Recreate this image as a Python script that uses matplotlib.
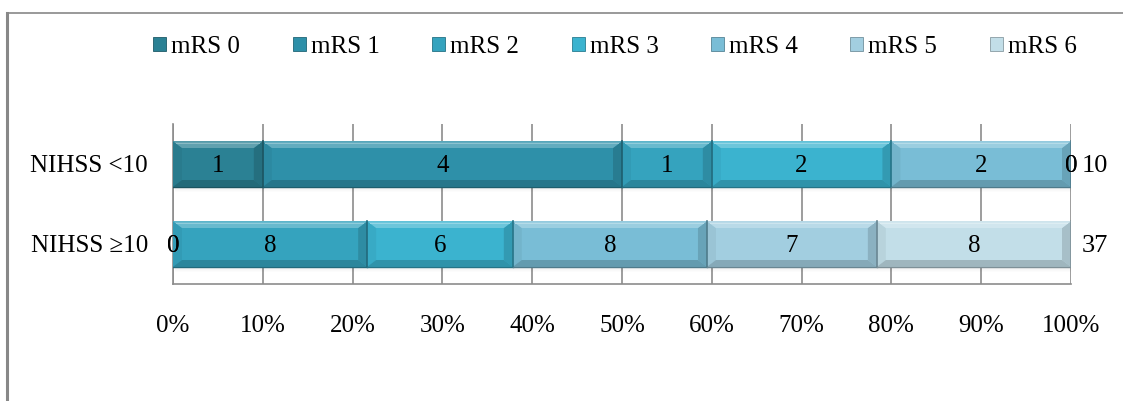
import matplotlib as mpl
import matplotlib.pyplot as plt
from matplotlib.patches import Rectangle, Polygon, Patch
from matplotlib.colors import to_rgb
import numpy as np

mpl.rcParams['font.family'] = ['Liberation Serif', 'DejaVu Serif']
mpl.rcParams['font.size'] = 18

# counts per mRS grade for each NIHSS group
groups = ['NIHSS <10', 'NIHSS \u226510']
series = ['mRS 0', 'mRS 1', 'mRS 2', 'mRS 3', 'mRS 4', 'mRS 5', 'mRS 6']
nihss_lt10 = [1, 4, 1, 2, 2, 0, 0]
nihss_ge10 = [0, 0, 8, 6, 8, 7, 8]
colors = ['#2b8194', '#2e90a9', '#35a3be', '#3bb3cf', '#79bdd6', '#a2cee0', '#c2dee8']

counts = np.array([nihss_lt10, nihss_ge10])
totals = counts.sum(axis=1)
frac = counts / totals[:, None]
ypos = [1, 0]
bar_h = 0.57


def mix(c, other, t):
    c = np.array(to_rgb(c))
    return tuple(c * (1 - t) + np.array(other) * t)


def bevel_bar(ax, x0, w, yc, h, color):
    x1 = x0 + w
    y0, y1 = yc - h / 2, yc + h / 2
    # soft drop shadow
    for k in range(5):
        ax.add_patch(Rectangle((x0 + 0.002, y0 - 0.012 * (k + 1)), w, 0.012,
                               facecolor='black', alpha=0.06 * (5 - k) / 5,
                               lw=0, zorder=2))
    ax.add_patch(Rectangle((x0, y0), w, h, facecolor=color, lw=0, zorder=3))
    dx, dy = 0.010, 0.085
    if w < 2 * dx:
        return
    white, black = (1, 1, 1), (0, 0, 0)
    top = [(x0, y1), (x1, y1), (x1 - dx, y1 - dy), (x0 + dx, y1 - dy)]
    bot = [(x0, y0), (x1, y0), (x1 - dx, y0 + dy), (x0 + dx, y0 + dy)]
    left = [(x0, y0), (x0, y1), (x0 + dx, y1 - dy), (x0 + dx, y0 + dy)]
    right = [(x1, y0), (x1, y1), (x1 - dx, y1 - dy), (x1 - dx, y0 + dy)]
    ax.add_patch(Polygon(left, closed=True, facecolor=mix(color, black, 0.05), lw=0, zorder=4))
    ax.add_patch(Polygon(right, closed=True, facecolor=mix(color, black, 0.14), lw=0, zorder=4))
    ax.add_patch(Polygon(top, closed=True, facecolor=mix(color, white, 0.25), lw=0, zorder=4))
    ax.add_patch(Polygon(bot, closed=True, facecolor=mix(color, black, 0.18), lw=0, zorder=4))
    # bright rim along the top edge, dark seam on the right end
    ax.add_patch(Rectangle((x0 + dx * 0.3, y1 - dy * 0.45), w - dx * 0.6, dy * 0.25,
                           facecolor=mix(color, white, 0.45), lw=0, zorder=5))
    ax.plot([x1, x1], [y0, y1], color=mix(color, black, 0.35), lw=1.2, zorder=5)
    ax.plot([x0, x1], [y0, y0], color=mix(color, black, 0.35), lw=1.0, zorder=5)


fig = plt.figure(figsize=(11.23, 4.01), dpi=100)

# frame line on the left and top
fig.add_artist(plt.Line2D([6.5 / 1123, 6.5 / 1123], [0, 1 - 12.5 / 401], color='#888888', lw=2.2))
fig.add_artist(plt.Line2D([6.5 / 1123, 1], [1 - 12.5 / 401, 1 - 12.5 / 401], color='#888888', lw=1.2))

ax = fig.add_axes([173 / 1123, 1 - 284 / 401, (1071 - 173) / 1123, 160 / 401])

for i, yc in enumerate(ypos):
    left = 0.0
    for j in range(len(series)):
        w = frac[i, j]
        if w > 0:
            bevel_bar(ax, left, w, yc, bar_h, colors[j])
        ax.text(left + w / 2, yc - 0.02, str(counts[i, j]), ha='center', va='center',
                fontsize=18, zorder=6)
        left += w
    ax.text(1.012, yc - 0.02, str(totals[i]), ha='left', va='center', fontsize=19, zorder=6,
            clip_on=False)

ax.set_xlim(0, 1)
ax.set_ylim(-0.5, 1.5)
ax.set_xticks(np.arange(0, 1.01, 0.1))
ax.set_xticklabels(['%d%%' % v for v in range(0, 101, 10)])
ax.set_yticks(ypos)
ax.set_yticklabels(groups)
ax.tick_params(axis='both', length=0, labelsize=18)
ax.tick_params(axis='x', pad=22)
ax.tick_params(axis='y', pad=18)
ax.grid(axis='x', color='#8c8c8c', lw=1.2, zorder=1)
ax.set_axisbelow(True)
for s in ['top', 'right']:
    ax.spines[s].set_visible(False)
ax.spines['left'].set_color('#8c8c8c')
ax.spines['bottom'].set_color('#8c8c8c')
ax.spines['left'].set_linewidth(1.2)
ax.spines['bottom'].set_linewidth(1.2)

handles = [Patch(facecolor=c, edgecolor=mix(c, (0, 0, 0), 0.3), lw=0.6) for c in colors]
fig.legend(handles, series, loc='center', bbox_to_anchor=(615 / 1123, 1 - 47 / 401), ncol=7,
           frameon=False, fontsize=18, handlelength=0.52, handleheight=0.48,
           handletextpad=0.2, columnspacing=2.1, borderaxespad=0)

fig.savefig('out.png', dpi=100, facecolor='white')
